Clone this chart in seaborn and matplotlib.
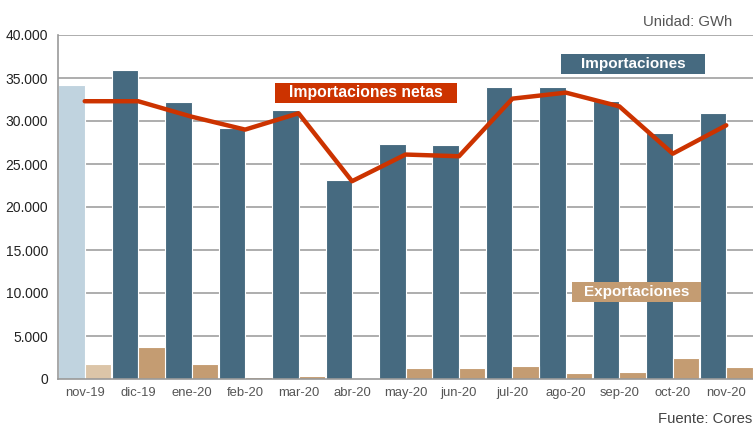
import matplotlib
matplotlib.use("Agg")
import matplotlib.pyplot as plt
import seaborn as sns
import numpy as np
import pandas as pd
from matplotlib.ticker import FuncFormatter, FixedLocator

months = ["nov-19", "dic-19", "ene-20", "feb-20", "mar-20", "abr-20", "may-20",
          "jun-20", "jul-20", "ago-20", "sep-20", "oct-20", "nov-20"]
importaciones = [34200, 35900, 32200, 29200, 31300, 23100, 27300,
                 27200, 34000, 33900, 32300, 28600, 30900]
exportaciones = [1800, 3750, 1800, 270, 400, 100, 1300,
                 1300, 1500, 700, 800, 2500, 1450]
netas = [32300, 32300, 30500, 29000, 30900, 23000, 26100,
         25900, 32600, 33300, 31700, 26200, 29500]

df = pd.DataFrame({
    "mes": months * 2,
    "valor": importaciones + exportaciones,
    "serie": ["Importaciones"] * len(months) + ["Exportaciones"] * len(months),
})

sns.set_theme(style="white")
plt.rcParams["font.family"] = ["Liberation Sans", "DejaVu Sans"]

W, H = 753, 428
fig = plt.figure(figsize=(W / 100, H / 100), dpi=100)
ax = fig.add_axes([58 / W, 1 - 379 / H, 1 - 58 / W, (379 - 35) / H])

c_imp = "#466a80"
c_exp = "#c49c72"
c_imp_l = "#c0d3df"
c_exp_l = "#dcc5a8"
c_net = "#cc3300"

sns.barplot(data=df, x="mes", y="valor", hue="serie", order=months,
            hue_order=["Importaciones", "Exportaciones"],
            palette=[c_imp, c_exp], saturation=1, width=0.99, dodge=True,
            edgecolor="white", linewidth=0.8, legend=False, ax=ax, zorder=2)

# lighter first month
ax.containers[0][0].set_facecolor(c_imp_l)
ax.containers[1][0].set_facecolor(c_exp_l)

sns.lineplot(x=np.arange(len(months)), y=netas, color=c_net, linewidth=3.2,
             ax=ax, zorder=3)

ax.set_xlim(-0.5, len(months) - 0.5)
ax.set_ylim(0, 40000)
ax.set_yticks(np.arange(0, 40001, 5000))
ax.yaxis.set_major_formatter(FuncFormatter(lambda v, p: f"{int(v):,}".replace(",", ".")))
ax.grid(axis="y", color="#a0a0a0", linewidth=1.2, zorder=0)
ax.set_axisbelow(True)
ax.set_xlabel("")
ax.set_ylabel("")

for s in ["top", "right"]:
    ax.spines[s].set_visible(False)
for s in ["left", "bottom"]:
    ax.spines[s].set_color("#999999")
    ax.spines[s].set_linewidth(1.2)

ax.tick_params(axis="y", which="major", length=4, color="#999999", width=1.2,
               labelsize=10, labelcolor="#222222", pad=3)
ax.tick_params(axis="x", which="major", length=0, labelsize=9.4, labelcolor="#555555", pad=6)
ax.xaxis.set_minor_locator(FixedLocator(np.arange(-0.5, len(months), 1.0)))
ax.tick_params(axis="x", which="minor", length=4, color="#999999", width=1.2)

def label_box(x0, y0, x1, y1, text, color, fs):
    fig.patches.append(plt.Rectangle((x0 / W, 1 - y1 / H), (x1 - x0) / W, (y1 - y0) / H,
                                     transform=fig.transFigure, facecolor=color,
                                     edgecolor="none", zorder=5))
    fig.text((x0 + x1) / 2 / W, 1 - (y0 + y1) / 2 / H, text, color="white",
             fontsize=fs, fontweight="bold", ha="center", va="center", zorder=6)

label_box(275, 83, 457, 103, "Importaciones netas", c_net, 11.3)
label_box(561, 54, 705, 74, "Importaciones", c_imp, 11)
label_box(572, 282, 701, 302, "Exportaciones", c_exp, 11)

fig.text(732 / W, 1 - 22 / H, "Unidad: GWh", ha="right", va="center",
         fontsize=10.7, color="#555555")
fig.text(752 / W, 1 - 419 / H, "Fuente: Cores", ha="right", va="center",
         fontsize=10.7, color="#444444")

fig.savefig("out.png", dpi=100)
